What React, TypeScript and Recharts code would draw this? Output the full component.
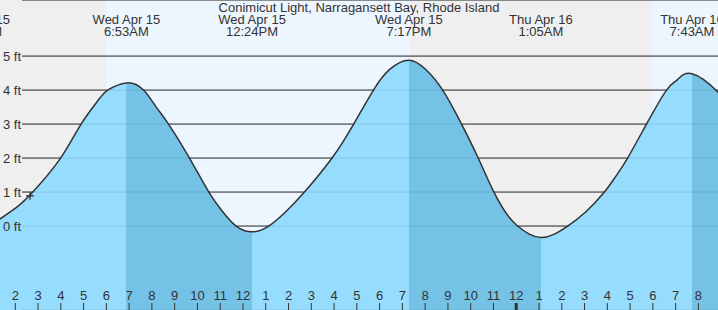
import { ComposedChart, Area, XAxis, YAxis, CartesianGrid, ReferenceArea, ReferenceLine, ReferenceDot } from 'recharts'

const STATION = 'Conimicut Light, Narragansett Bay, Rhode Island'

// hours since Wed Apr 15 00:00
const tideHours = [
  1.0, 1.31, 2.04, 2.77, 3.99, 4.89, 5.7, 6.06, 6.88,
  7.63, 8.19, 8.73, 9.65, 10.5, 11.11, 11.7, 12.4,
  13.13, 13.89, 14.7, 15.91, 16.86, 17.73, 18.43, 19.28,
  20.04, 20.77, 21.6, 22.33, 23.02, 23.62, 24.06, 24.57, 25.08,
  25.6, 26.26, 27.06, 27.87, 28.38, 28.89, 29.72, 30.6, 31.07, 31.72,
  32.83, 33.2,
]
const tideFeet = [
  0.06, 0.2, 0.54, 1.0, 2.0, 3.0, 3.75, 4.0, 4.21,
  4.0, 3.5, 3.0, 2.0, 1.0, 0.42, 0.0, -0.17,
  0.0, 0.43, 1.0, 2.0, 3.0, 4.0, 4.6, 4.88,
  4.6, 4.0, 3.0, 2.0, 1.0, 0.32, 0.0, -0.24, -0.34,
  -0.26, 0.0, 0.42, 1.0, 1.47, 2.0, 3.0, 4.0, 4.3, 4.48,
  3.96, 3.6,
]

const highHours = [6.883, 19.283, 31.717]
const lowHours = [12.4, 25.083]

const eventHours = [0.28, 6.883, 12.4, 19.283, 25.083, 31.717]
const eventDays = ['Wed Apr 15', 'Wed Apr 15', 'Wed Apr 15', 'Wed Apr 15', 'Thu Apr 16', 'Thu Apr 16']
const eventClock = ['12:17AM', '6:53AM', '12:24PM', '7:17PM', '1:05AM', '7:43AM']

const sunriseHours = [6.0, 29.97]
const sunsetHours = [19.35, 34]

const feetTicks = [0, 1, 2, 3, 4, 5]
const hourTicks = [2, 3, 4, 5, 6, 7, 8, 9, 10, 11, 12, 13, 14, 15, 16, 17, 18, 19, 20, 21, 22, 23, 24, 25, 26, 27, 28, 29, 30, 31, 32]
const hourLabels = ['2', '3', '4', '5', '6', '7', '8', '9', '10', '11', '12', '1', '2', '3', '4', '5', '6', '7', '8', '9', '10', '11', '12', '1', '2', '3', '4', '5', '6', '7', '8']

const X_DOMAIN = [1.33, 32.86]
const Y_DOMAIN = [-2.47, 6.65]

const FONT = '"Liberation Sans", Arial, sans-serif'
const INK = '#333'
const LIGHT = '#96dcfd'
const DARK = '#74c2e6'

const data = tideHours.map((h, i) => ({ hour: h, feet: tideFeet[i] }))

// falling tide (high -> low) is shaded darker
const first = tideHours[0]
const span = tideHours[tideHours.length - 1] - first
const turns = [
  ...highHours.map((t) => ({ t, color: DARK })),
  ...lowHours.map((t) => ({ t, color: LIGHT })),
].sort((a, b) => a.t - b.t)
const stops: { off: number; color: string }[] = [{ off: 0, color: LIGHT }]
let cur = LIGHT
for (const tr of turns) {
  const off = (tr.t - first) / span
  stops.push({ off, color: cur })
  stops.push({ off, color: tr.color })
  cur = tr.color
}
stops.push({ off: 1, color: cur })

function HourTick(props: any) {
  const { x, payload, index } = props
  const midnight = payload.value % 24 === 0
  return (
    <g>
      <text x={x} y={300} textAnchor="middle" fontSize={13} fill={INK} fontFamily={FONT}>
        {hourLabels[index] ?? ''}
      </text>
      <line x1={x} x2={x} y1={303} y2={310} stroke={INK} strokeWidth={midnight ? 3 : 1} />
    </g>
  )
}

function FeetTick(props: any) {
  const { y, payload } = props
  return (
    <text x={3} y={y + 4.5} fontSize={13} fill={INK} fontFamily={FONT}>
      {payload.value} ft
    </text>
  )
}

function EventLabel({ viewBox, day, clock }: any) {
  const x = viewBox?.x ?? 0
  return (
    <g fontFamily={FONT} fontSize={13} fill={INK}>
      <text x={x} y={24} textAnchor="middle">{day}</text>
      <text x={x} y={36} textAnchor="middle">{clock}</text>
    </g>
  )
}

function Plus({ cx, cy }: any) {
  return (
    <g stroke={INK} strokeWidth={1.3}>
      <line x1={cx - 4} x2={cx + 4} y1={cy} y2={cy} />
      <line x1={cx} x2={cx} y1={cy - 4} y2={cy + 4} />
    </g>
  )
}

export default function App() {
  return (
    <div style={{ position: 'relative', width: 718, height: 310, background: '#efefef', overflow: 'hidden' }}>
      <style>{'body{margin:0}'}</style>
      <ComposedChart width={718} height={310} data={data} margin={{ top: 0, right: 0, bottom: 0, left: 0 }}>
        <defs>
          <linearGradient id="tideFill" x1="0" y1="0" x2="1" y2="0">
            {stops.map((s, i) => (
              <stop key={i} offset={s.off} stopColor={s.color} />
            ))}
          </linearGradient>
        </defs>
        <XAxis
          type="number"
          dataKey="hour"
          domain={X_DOMAIN}
          allowDataOverflow
          ticks={hourTicks}
          interval={0}
          mirror
          axisLine={false}
          tickLine={false}
          tick={<HourTick />}
        />
        <YAxis
          type="number"
          domain={Y_DOMAIN}
          allowDataOverflow
          ticks={feetTicks}
          interval={0}
          mirror
          axisLine={false}
          tickLine={false}
          tick={<FeetTick />}
        />
        {sunriseHours.map((s, i) => (
          <ReferenceArea
            key={'day' + i}
            x1={s}
            x2={Math.min(sunsetHours[i], X_DOMAIN[1])}
            y1={Y_DOMAIN[0]}
            y2={Y_DOMAIN[1]}
            fill="#edf6ff"
            fillOpacity={1}
            stroke="none"
            ifOverflow="hidden"
            zIndex={-200}
          />
        ))}
        <CartesianGrid vertical={false} x={22} width={696} stroke={INK} strokeWidth={1} zIndex={-100} />
        <Area
          type="natural"
          dataKey="feet"
          stroke={INK}
          strokeWidth={1.5}
          fill="url(#tideFill)"
          fillOpacity={1}
          baseValue="dataMin"
          dot={false}
          activeDot={false}
          isAnimationActive={false}
        />
        <CartesianGrid vertical={false} x={22} width={696} stroke="#000" strokeOpacity={0.1} strokeWidth={1} zIndex={150} />
        {eventHours.map((t, i) => (
          <ReferenceLine
            key={'ev' + i}
            x={t}
            stroke="none"
            ifOverflow="visible"
            label={(p: any) => <EventLabel {...p} day={eventDays[i]} clock={eventClock[i]} />}
          />
        ))}
        <ReferenceDot x={2.65} y={0.89} shape={(p: any) => <Plus {...p} />} ifOverflow="visible" />
      </ComposedChart>
      <div
        style={{
          position: 'absolute',
          top: 0,
          left: 0,
          width: 718,
          textAlign: 'center',
          fontFamily: FONT,
          fontSize: 13,
          lineHeight: '15px',
          color: INK,
        }}
      >
        {STATION}
      </div>
    </div>
  )
}
